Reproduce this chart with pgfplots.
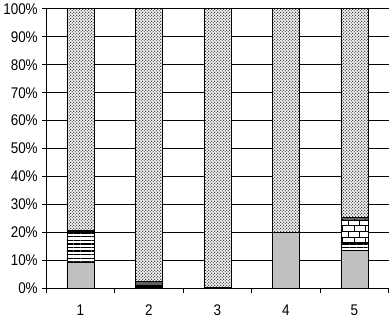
\documentclass[border=0pt]{standalone}
\usepackage{fontspec}
\setmainfont{Liberation Sans}
\usepackage{graphicx}
\usepackage{pgfplots}
\pgfplotsset{compat=1.18}
\usetikzlibrary{patterns,patterns.meta}
\definecolor{lgray}{RGB}{192,192,192}
\definecolor{dgray}{RGB}{96,96,96}
\pgfdeclarepatternformonly{bigdots}{\pgfpointorigin}{\pgfqpoint{3.4pt}{3.4pt}}{\pgfqpoint{3.4pt}{3.4pt}}{%
  \pgfpathcircle{\pgfqpoint{0.85pt}{0.85pt}}{0.72pt}%
  \pgfpathcircle{\pgfqpoint{2.55pt}{2.55pt}}{0.72pt}%
  \pgfusepath{fill}}
\begin{document}
\begin{tikzpicture}
\begin{axis}[
  scale only axis, width=344pt, height=281pt,
  ybar stacked, bar width=27pt,
  xmin=0.5, xmax=5.5, ymin=0, ymax=100,
  xtick={1,2,3,4,5}, xticklabels={1,2,3,4,5},
  xticklabel={\scalebox{1}[1.15]{\pgfmathprintnumber{\tick}}},
  minor xtick={0.5,1.5,2.5,3.5,4.5,5.5},
  major x tick style={draw=none},
  minor tick length=5pt,
  ytick={0,10,...,100},
  yticklabel={\scalebox{1}[1.15]{\pgfmathprintnumber{\tick}\%}},
  ymajorgrids, grid style={black, line width=0.8pt},
  axis x line*=bottom, axis y line*=left,
  axis line style={black, line width=0.8pt},
  tick align=outside, major tick length=4pt,
  tick style={black, line width=0.8pt},
  every tick label/.append style={font=\fontsize{13.5}{15}\selectfont},
  /pgf/number format/assume math mode=true,
  xticklabel style={yshift=-9pt},
  yticklabel style={xshift=-1pt},
  every axis plot/.append style={draw=black, line width=0.6pt},
]
\addplot[fill=lgray] coordinates {(1,9.5) (2,0) (3,0) (4,20) (5,13.5)};
\addplot[fill=black] coordinates {(1,0) (2,1) (3,0.4) (4,0) (5,0)};
\addplot[fill=dgray] coordinates {(1,0) (2,1.5) (3,0) (4,0) (5,0)};
\addplot[fill=white, postaction={pattern={Lines[distance=3.6pt, line width=1.3pt]}}] coordinates {(1,10.5) (2,0) (3,0) (4,0) (5,2.5)};
\addplot[fill=black] coordinates {(1,0.7) (2,0) (3,0) (4,0) (5,0)};
\addplot[fill=white, postaction={pattern=bricks}] coordinates {(1,0) (2,0) (3,0) (4,0) (5,8.5)};
\addplot[fill=dgray] coordinates {(1,0) (2,0) (3,0) (4,0) (5,0.8)};
\addplot[fill=white, postaction={pattern=bigdots}] coordinates {(1,79.3) (2,97.5) (3,99.6) (4,80) (5,74.7)};
\end{axis}
\end{tikzpicture}
\end{document}
